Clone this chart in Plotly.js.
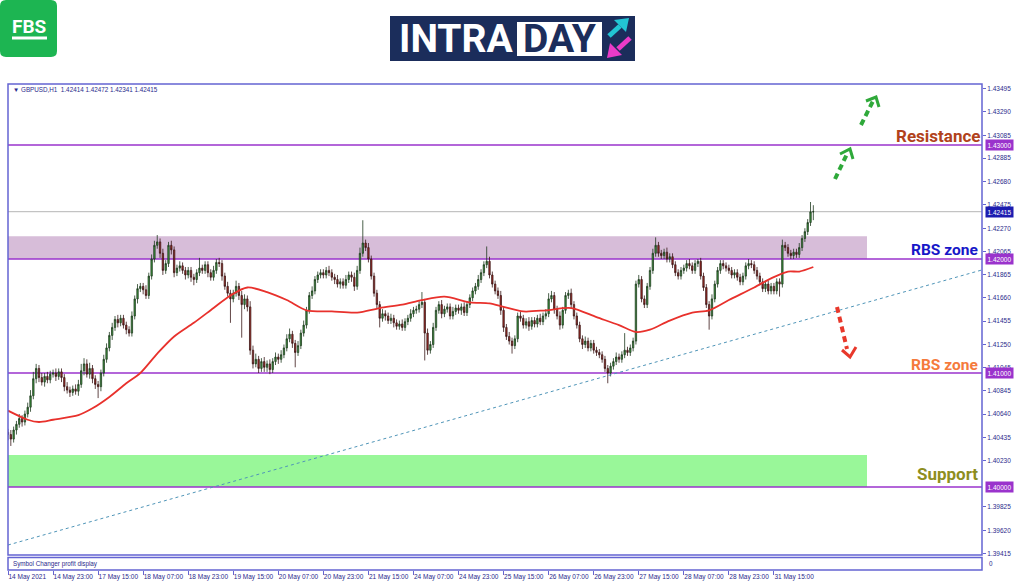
<!DOCTYPE html>
<html><head><meta charset="utf-8">
<script src="https://cdn.plot.ly/plotly-3.0.1.min.js"></script>
<style>html,body{margin:0;padding:0;background:#fff;overflow:hidden}#chart{width:1024px;height:587px}</style>
</head><body><div id="chart"></div>
<script>
// ---------------- DATA (prices stored as pips above 1.40000; 1 pip = 0.0001) ----------------
const BASE = 1.40000;
const firstOpenPips = 48;
const closePips = [
 46,42,50,55,60,57,64,70,80,95,104,96,92,97,94,99,
 100,97,101,96,88,85,83,86,84,90,102,108,99,104,95,90,
 88,100,112,122,133,140,147,144,148,142,138,135,150,165,174,176,
 173,168,185,200,212,215,205,190,196,212,208,188,192,194,190,186,
 190,184,182,188,192,190,195,188,184,190,197,196,185,176,170,165,
 170,176,168,160,165,158,120,108,112,104,110,105,108,103,110,114,
 112,116,122,130,134,126,118,124,135,142,155,168,172,182,186,188,
 186,190,188,184,182,178,180,177,182,186,184,176,190,205,214,210,
 200,185,170,160,148,152,150,146,148,144,141,143,140,145,148,152,
 155,156,160,162,135,120,125,140,155,160,152,156,158,150,154,157,
 155,158,153,160,166,172,176,182,188,195,198,186,178,172,168,155,
 140,132,128,124,130,150,148,142,145,141,146,143,148,145,150,152,
 165,168,156,150,142,155,168,170,160,150,142,130,125,128,122,126,
 120,118,116,112,104,100,106,110,114,112,116,120,118,122,128,178,
 182,165,160,176,190,205,212,205,203,206,200,202,195,188,185,190,
 192,196,194,190,196,198,185,175,160,150,165,178,190,196,194,192,
 190,186,188,184,180,185,194,196,195,190,185,180,174,178,172,176,
 172,180,178,212,210,205,203,206,204,210,218,224,232,241.4,241.5
];
const wickUpPips = [
 3,4,3,3,4,3,3,4,5,6,4,3,4,3,4,3,
 3,4,3,3,3,4,3,3,4,4,6,5,4,5,3,3,
 3,3,4,4,3,4,3,4,3,3,3,3,4,3,4,3,
 3,4,3,4,4,6,3,4,3,3,4,3,3,4,3,3,
 3,3,3,3,9,3,3,3,3,4,3,4,3,3,4,3,
 3,5,3,4,4,3,5,4,5,3,3,4,3,4,3,4,
 3,4,3,4,5,3,3,4,3,4,3,3,4,3,3,3,
 3,3,4,3,3,4,3,3,4,3,3,4,4,5,20,3,
 4,3,3,3,3,4,3,3,4,3,3,3,4,3,3,4,
 3,3,3,9,3,4,3,4,3,3,4,3,3,3,4,3,
 3,3,4,3,3,3,3,4,3,3,13,4,3,3,3,4,
 3,3,4,3,3,3,4,3,3,4,3,3,3,4,3,4,
 5,4,3,3,4,3,3,3,4,3,3,3,3,4,3,3,
 3,3,3,3,3,3,3,3,4,3,3,15,3,3,3,3,
 4,3,3,3,3,4,7,3,3,3,4,3,3,3,3,3,
 3,3,4,3,3,2,3,3,3,3,4,3,3,3,3,3,
 3,3,3,3,3,3,3,4,3,3,3,3,3,3,3,3,
 3,3,3,5,3,3,3,3,3,4,3,3,3,8.6,5.7
];
const wickDownPips = [
 5,6,3,4,3,4,3,3,4,3,4,4,3,4,3,3,
 3,4,3,4,4,3,4,3,3,4,3,4,3,4,4,4,
 10,4,3,3,3,4,3,4,3,3,4,3,3,3,4,3,
 4,3,3,3,3,3,4,4,3,3,4,4,3,3,3,4,
 3,4,5,3,3,3,3,4,3,3,3,3,4,3,3,21,
 3,3,4,29,4,4,4,4,3,4,3,4,4,4,3,3,
 4,3,3,3,3,4,13,3,3,3,3,3,3,3,3,3,
 3,3,3,3,4,3,4,3,3,3,4,4,3,3,3,3,
 3,3,3,3,8,3,4,3,3,4,3,3,3,3,3,3,
 3,3,3,3,24,4,3,3,3,3,4,3,3,3,3,3,
 3,4,3,3,3,3,3,3,3,3,3,3,3,3,3,4,
 4,3,3,7,3,3,3,3,3,4,3,3,3,3,3,3,
 3,3,4,3,4,3,3,3,3,3,3,3,4,3,3,3,
 3,3,3,3,3,9,3,3,3,3,3,3,3,3,3,3,
 3,3,3,3,3,3,3,3,3,3,3,3,3,3,3,3,
 3,3,3,3,3,3,3,3,3,12,3,3,3,3,3,3,
 3,3,3,3,3,3,3,3,3,3,3,3,3,3,3,3,
 3,3,11,3,3,3,3,3,3,3,3,3,3,3,7.3
];
// moving average (red line), read at selected bars
const maIdx  = [0,7,11,16,25,30,36,42,47,53,59,66,73,79,85,92,99,106,115,124,132,140,147,155,164,171,176,183,191,200,209,217,223,228,235,243,249,256,265,271,277,281,286];
const maPips = [67,59,57,59,63,69,79,91,100,117,132,144,157,168,175,171,164,155,154,153,157,160,164,167,162,161,158,154,155,157,149,142,136,138,146,153,155,164,175,183,189,189,193];
// x-axis ticks (bar index) and labels
const xTickIdx = [0,16,32,48,64,80,96,112,128,144,160,176,192,208,224,240,256,272];
const xTickLabels = ["14 May 2021","14 May 23:00","17 May 15:00","18 May 07:00","18 May 23:00","19 May 15:00","20 May 07:00","20 May 23:00","21 May 15:00","24 May 07:00","24 May 23:00","25 May 15:00","26 May 07:00","26 May 23:00","27 May 15:00","28 May 07:00","28 May 23:00","31 May 15:00"];
// y-axis tick values
const yTickVals = [1.43495,1.43290,1.43085,1.42885,1.42680,1.42475,1.42270,1.42065,1.41865,1.41660,1.41455,1.41250,1.41045,1.40845,1.40640,1.40435,1.40230,1.39825,1.39620,1.39415];
// levels, zones, trend line
const levelPrices = [1.43000, 1.42000, 1.41000, 1.40000];
const lastPrice = 1.42415;
const rbsZone = [1.42000, 1.42200];
const supportZone = [1.40000, 1.40280];
const trendIdx = [0, 345.9];
const trendPrices = [1.39491, 1.41904];
const headerText = "\u25BC GBPUSD,H1\u00a0\u00a01.42414 1.42472 1.42341 1.42415";

// ---------------- BUILD ----------------
const toP = v => +(BASE + v/10000).toFixed(5);
const xs = closePips.map((_, i) => i);
const openPips = closePips.map((_, i) => i === 0 ? firstOpenPips : closePips[i-1]);
const open  = openPips.map(toP);
const close = closePips.map(toP);
const high  = closePips.map((c, i) => toP(Math.max(c, openPips[i]) + wickUpPips[i]));
const low   = closePips.map((c, i) => toP(Math.min(c, openPips[i]) - wickDownPips[i]));

// pixel -> paper helpers (plot area: x 8..982, y 84..570)
const L = 8, R = 982, T = 84, B = 570;
const px = x => (x - L) / (R - L);
const py = y => (B - y) / (B - T);
const X = v => px(v).toFixed(5), Y = v => py(v).toFixed(5);
function poly(pts, closed){ return 'M' + pts.map(p => X(p[0]) + ',' + Y(p[1])).join(' L') + (closed ? ' Z' : ''); }
function rr(x0,y0,x1,y1,r){
  return `M${X(x0+r)},${Y(y0)} L${X(x1-r)},${Y(y0)} Q${X(x1)},${Y(y0)} ${X(x1)},${Y(y0+r)} L${X(x1)},${Y(y1-r)} Q${X(x1)},${Y(y1)} ${X(x1-r)},${Y(y1)} L${X(x0+r)},${Y(y1)} Q${X(x0)},${Y(y1)} ${X(x0)},${Y(y1-r)} L${X(x0)},${Y(y0+r)} Q${X(x0)},${Y(y0)} ${X(x0+r)},${Y(y0)} Z`;
}

const LEVEL = '#9a33cc', FRAME = '#6464d2', AXTXT = '#2b2b8c';
const F = 'Liberation Sans, Arial, sans-serif';
const FB = 'Roboto, Open Sans, Liberation Sans, sans-serif';

const traces = [
  {type:'candlestick', x: xs, open, high, low, close,
   increasing:{line:{color:'#1e3a1e', width:0.8}, fillcolor:'#3f9a3f'},
   decreasing:{line:{color:'#3a1818', width:0.8}, fillcolor:'#a82a22'},
   whiskerwidth:0, hoverinfo:'skip', showlegend:false},
  {type:'scatter', mode:'lines', x: maIdx, y: maPips.map(toP),
   line:{color:'#e8312c', width:1.8, shape:'spline', smoothing:0.8}, hoverinfo:'skip', showlegend:false}
];

const shapes = [
  {type:'rect', xref:'paper', yref:'y', x0:0, x1:px(867), y0:rbsZone[0], y1:rbsZone[1], fillcolor:'#d7bdd9', line:{width:0}, layer:'below'},
  {type:'rect', xref:'paper', yref:'y', x0:0, x1:px(867), y0:supportZone[0], y1:supportZone[1], fillcolor:'#99f799', line:{width:0}, layer:'below'},
  ...levelPrices.map(p => ({type:'line', xref:'paper', yref:'y', x0:0, x1:1, y0:p, y1:p, line:{color:LEVEL, width:1.6}, layer:'below'})),
  {type:'line', xref:'paper', yref:'y', x0:0, x1:1, y0:lastPrice, y1:lastPrice, line:{color:'#b5b5b5', width:1}, layer:'below'},
  {type:'line', xref:'x', yref:'y', x0:trendIdx[0], x1:trendIdx[1], y0:trendPrices[0], y1:trendPrices[1], line:{color:'#4f95b8', width:1, dash:'dot'}},
  // frames
  {type:'rect', xref:'paper', yref:'paper', x0:0, x1:1, y0:py(555), y1:1, line:{color:FRAME, width:1.5}},
  {type:'rect', xref:'paper', yref:'paper', x0:0, x1:1, y0:0, y1:py(557.5), line:{color:FRAME, width:1.5}},
  // green dashed arrows
  {type:'line', xref:'paper', yref:'paper', x0:px(835), y0:py(179), x1:px(847), y1:py(154), line:{color:'#2fa93a', width:4, dash:'6px,4px'}},
  {type:'path', xref:'paper', yref:'paper', path:poly([[840,154],[850,149],[853,159]], false), line:{color:'#2fa93a', width:3}},
  {type:'line', xref:'paper', yref:'paper', x0:px(861), y0:py(125), x1:px(873), y1:py(101), line:{color:'#2fa93a', width:4, dash:'6px,4px'}},
  {type:'path', xref:'paper', yref:'paper', path:poly([[866,101],[876,97],[879,107]], false), line:{color:'#2fa93a', width:3}},
  // red dashed arrow
  {type:'line', xref:'paper', yref:'paper', x0:px(837), y0:py(307), x1:px(847), y1:py(349), line:{color:'#e8382b', width:4, dash:'6px,4px'}},
  {type:'path', xref:'paper', yref:'paper', path:poly([[842,350],[850,357],[856,347]], false), line:{color:'#e8382b', width:3}},
  // FBS logo
  {type:'path', xref:'paper', yref:'paper', path:rr(0,0,57,57,6), fillcolor:'#1db552', line:{width:0}},
  {type:'rect', xref:'paper', yref:'paper', x0:px(12), x1:px(47), y0:py(39.5), y1:py(36.5), fillcolor:'#ffffff', line:{width:0}},
  // INTRADAY logo
  {type:'rect', xref:'paper', yref:'paper', x0:px(390), x1:px(635), y0:py(61), y1:py(16), fillcolor:'#1b2d5b', line:{width:0}},
  {type:'rect', xref:'paper', yref:'paper', x0:px(517), x1:px(602), y0:py(56), y1:py(22), fillcolor:'#ffffff', line:{width:0}},
  {type:'line', xref:'paper', yref:'paper', x0:px(609), y0:py(36), x1:px(620), y1:py(26), line:{color:'#22c4d4', width:5}},
  {type:'path', xref:'paper', yref:'paper', path:poly([[629,18],[614,20],[626,32]], true), fillcolor:'#22c4d4', line:{width:0}},
  {type:'line', xref:'paper', yref:'paper', x0:px(630), y0:py(38), x1:px(618), y1:py(49), line:{color:'#ea3bc8', width:5}},
  {type:'path', xref:'paper', yref:'paper', path:poly([[607,58],[610,43],[622,55]], true), fillcolor:'#ea3bc8', line:{width:0}}
];

const ann = [];
const A = o => ann.push(Object.assign({showarrow:false, xref:'paper', yref:'paper'}, o));
A({x:px(11), y:py(89), xanchor:'left', yanchor:'middle', text:headerText, font:{size:6.3, color:AXTXT, family:F}});
A({x:px(11), y:py(563.5), xanchor:'left', yanchor:'middle', text:'Symbol Changer profit display', font:{size:6.3, color:AXTXT, family:F}});
A({x:px(987), y:py(563.5), xanchor:'left', yanchor:'middle', text:'0', font:{size:6.3, color:AXTXT, family:F}});
levelPrices.forEach(p => A({x:1, xshift:3, yref:'y', y:p, xanchor:'left', yanchor:'middle', text:p.toFixed(5),
  font:{size:6.5, color:'#ffffff', family:F}, bgcolor:LEVEL, borderpad:1.5}));
A({x:1, xshift:3, yref:'y', y:lastPrice, xanchor:'left', yanchor:'middle', text:lastPrice.toFixed(5),
  font:{size:6.5, color:'#ffffff', family:F}, bgcolor:'#1c1cb0', borderpad:1.5});
A({x:px(982), y:py(136), xanchor:'right', yanchor:'middle', text:'<b>Resistance</b>', font:{size:17, color:'#b1421b', family:FB}});
A({x:px(980), y:py(250), xanchor:'right', yanchor:'middle', text:'<b>RBS zone</b>', font:{size:15.5, color:'#1717c8', family:FB}});
A({x:px(980), y:py(365), xanchor:'right', yanchor:'middle', text:'<b>RBS zone</b>', font:{size:15.5, color:'#f57a3c', family:FB}});
A({x:px(980), y:py(474), xanchor:'right', yanchor:'middle', text:'<b>Support</b>', font:{size:17, color:'#8e8e1e', family:FB}});
A({x:px(29), y:py(27), xanchor:'center', yanchor:'middle', text:'<b>FBS</b>', font:{size:19, color:'#ffffff', family:FB}});
A({x:px(456), y:py(39), xanchor:'center', yanchor:'middle', text:'<b>INTRA</b>', font:{size:39, color:'#ffffff', family:FB}});
A({x:px(559.5), y:py(39), xanchor:'center', yanchor:'middle', text:'<b>DAY</b>', font:{size:39, color:'#1b2d5b', family:FB}});

const layout = {
  width:1024, height:587,
  margin:{l:L, r:1024-R, t:T, b:587-B, pad:0},
  paper_bgcolor:'#ffffff', plot_bgcolor:'#ffffff',
  showlegend:false,
  xaxis:{range:[0, 345.9], tickmode:'array', tickvals:xTickIdx, ticktext:xTickLabels, tickangle:0,
    ticks:'outside', ticklen:4, tickwidth:1, tickcolor:FRAME, ticklabelposition:'outside right',
    tickfont:{size:6.5, color:AXTXT, family:F}, showgrid:false, zeroline:false, showline:false,
    anchor:'free', position:0, rangeslider:{visible:false}, fixedrange:true, automargin:false},
  yaxis:{domain:[py(555), 1], range:[1.394035, 1.435351], side:'right', tickmode:'array',
    tickvals:yTickVals, ticktext:yTickVals.map(v => v.toFixed(5)),
    ticks:'outside', ticklen:3, tickwidth:1, tickcolor:FRAME, automargin:false,
    tickfont:{size:6.5, color:AXTXT, family:F}, showgrid:false, zeroline:false, showline:false, fixedrange:true},
  shapes, annotations: ann
};

Plotly.newPlot('chart', traces, layout, {displayModeBar:false, staticPlot:true});
</script></body></html>
